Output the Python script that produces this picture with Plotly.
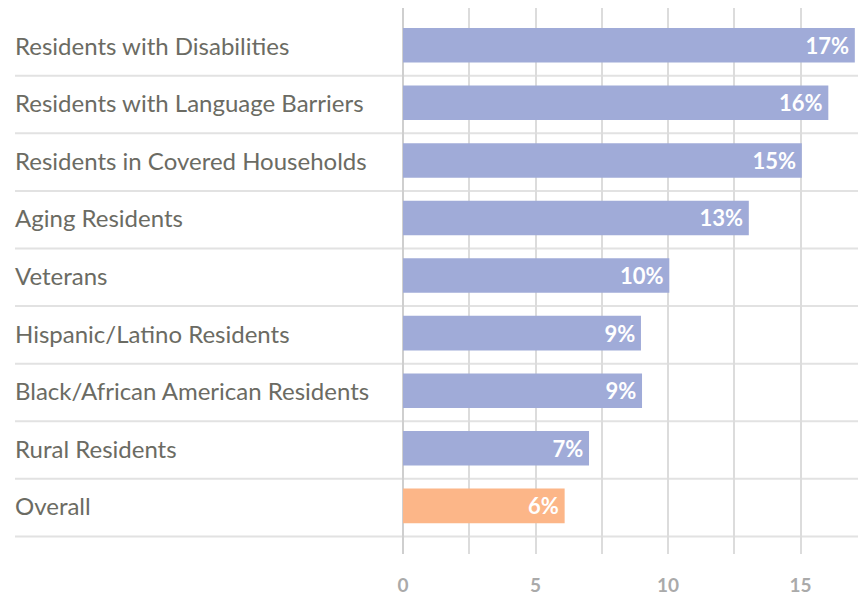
import plotly.graph_objects as go

categories = [
    "Residents with Disabilities",
    "Residents with Language Barriers",
    "Residents in Covered Households",
    "Aging Residents",
    "Veterans",
    "Hispanic/Latino Residents",
    "Black/African American Residents",
    "Rural Residents",
    "Overall",
]
values = [17.05, 16.05, 15.05, 13.05, 10.05, 8.98, 9.02, 7.02, 6.1]
bar_labels = ["17%", "16%", "15%", "13%", "10%", "9%", "9%", "7%", "6%"]
x_tick_vals = [0, 5, 10, 15]
x_tick_text = ["0", "5", "10", "15"]

BLUE = "#A0ABD8"
ORANGE = "#FCB688"
colors = [ORANGE if c == "Overall" else BLUE for c in categories]

# bottom-to-top order for plotly category axis
cats_b = categories[::-1]
vals_b = values[::-1]
labs_b = bar_labels[::-1]
cols_b = colors[::-1]

W, H = 858, 596
ML, MR, MT, MB = 403, 0, 8, 38

fig = go.Figure(
    go.Bar(
        y=cats_b,
        x=vals_b,
        orientation="h",
        marker=dict(color=cols_b, line=dict(width=0)),
        text=[t + "\u2009" for t in labs_b],
        textposition="inside",
        insidetextanchor="end",
        textfont=dict(family="Lato", size=22, color="white", weight="bold"),
        cliponaxis=False,
        hoverinfo="skip",
    )
)

label_x = (15 - ML) / (W - ML - MR)

shapes = []
for k in range(len(cats_b)):
    shapes.append(
        dict(
            type="line", xref="paper", yref="y",
            x0=label_x, x1=1, y0=k - 0.53, y1=k - 0.53,
            line=dict(color="#E2E2E2", width=2), layer="below",
        )
    )

annotations = []
for c in cats_b:
    annotations.append(
        dict(
            xref="paper", yref="y", x=label_x, y=c,
            text=c, showarrow=False, xanchor="left", yanchor="middle",
            xshift=-2,
            font=dict(family="Lato", size=24, color="#6B6B63"),
        )
    )

fig.update_layout(
    width=W, height=H,
    margin=dict(l=ML, r=MR, t=MT, b=MB),
    paper_bgcolor="white", plot_bgcolor="white",
    bargap=0.4,
    showlegend=False,
    shapes=shapes,
    annotations=annotations,
    xaxis=dict(
        range=[0, 17.17],
        tickvals=x_tick_vals, ticktext=x_tick_text,
        showgrid=True, gridcolor="#DCDCDC", gridwidth=1.5,
        minor=dict(dtick=2.5, showgrid=True, gridcolor="#DCDCDC", gridwidth=1.5),
        zeroline=True, zerolinecolor="#CFCFCF", zerolinewidth=1.5,
        ticks="outside", ticklen=14, tickcolor="rgba(0,0,0,0)",
        tickfont=dict(family="Lato", size=19, color="#AAAAAA", weight="bold"),
        fixedrange=True,
    ),
    yaxis=dict(
        range=[-0.836, 8.647],
        showticklabels=False, showgrid=False, zeroline=False,
        fixedrange=True,
    ),
)

fig.write_html(
    "out.html",
    config={"displayModeBar": False},
    post_script="document.body.style.margin='0';document.body.style.overflow='hidden';",
)
